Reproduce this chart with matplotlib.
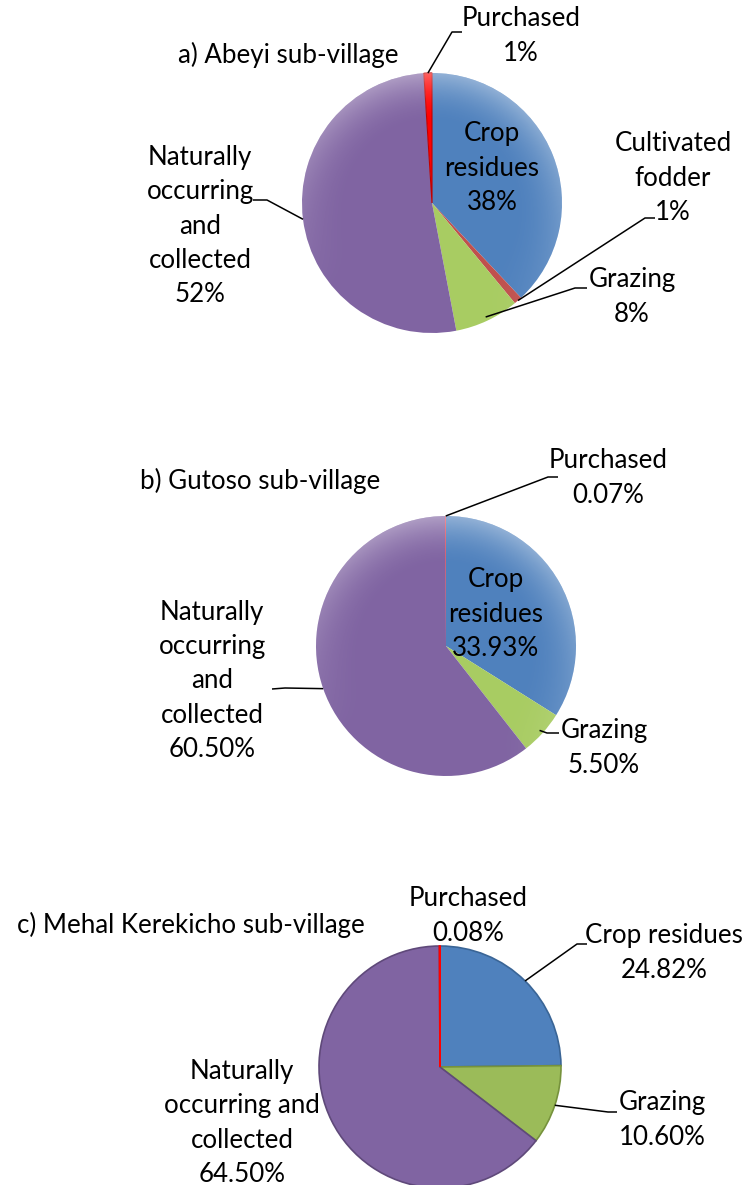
import numpy as np
import matplotlib.pyplot as plt
from matplotlib.patches import Circle

plt.rcParams['font.family'] = ['Lato', 'DejaVu Sans']

W, H = 743, 1185

# slices run clockwise from 12 o'clock
A_NAMES = ["Crop\nresidues", "Cultivated\nfodder", "Grazing",
           "Naturally\noccurring\nand\ncollected", "Purchased"]
A_VALUES = [38, 1, 8, 52, 1]

B_NAMES = ["Crop\nresidues", "Grazing",
           "Naturally\noccurring\nand\ncollected", "Purchased"]
B_VALUES = [33.93, 5.50, 60.50, 0.07]

C_NAMES = ["Crop residues", "Grazing",
           "Naturally\noccurring and\ncollected", "Purchased"]
C_VALUES = [24.82, 10.60, 64.50, 0.08]

BLUE, FODDER, GREEN, PURPLE, RED = "#4F81BD", "#C0504D", "#9BBB59", "#8064A2", "#FF0000"
GREEN_SOFT = "#A8CC62"

FS = 18.6
LS = 1.47


def px(x, y):
    return x, H - y


def bevel(ax, cx, cy, r):
    # soft rim highlight, like the office "soft round" bevel
    n = 400
    yy, xx = np.mgrid[1:-1:n * 1j, -1:1:n * 1j]
    rr = np.hypot(xx, yy)
    rim = np.clip((rr - 0.6) / 0.4, 0, 1) ** 2
    side = np.clip(0.45 + 0.55 * (yy + 0.2 * xx) / np.maximum(rr, 1e-6), 0, 1)
    img = np.zeros((n, n, 4))
    img[..., :3] = 1.0
    img[..., 3] = 0.38 * rim * side
    im = ax.imshow(img, extent=(cx - r, cx + r, cy - r, cy + r), zorder=3,
                   interpolation="bilinear")
    im.set_clip_path(Circle((cx, cy), r, transform=ax.transData))


def draw_pie(ax, values, colors, edges, center, radius, lw):
    cx, cy = px(*center)
    wedges, _ = ax.pie(values, colors=colors, startangle=90, counterclock=False,
                       center=(cx, cy), radius=radius,
                       wedgeprops=dict(linewidth=lw))
    for w, ec in zip(wedges, edges):
        w.set_edgecolor(ec)
        w.set_zorder(2)
    return wedges, cx, cy


def anchor(w, cx, cy, r):
    mid = np.deg2rad((w.theta1 + w.theta2) / 2)
    return cx + r * np.cos(mid), cy + r * np.sin(mid)


def leader(ax, start, elbow, end):
    ax.plot([start[0], elbow[0], end[0]], [start[1], H - elbow[1], H - end[1]],
            color="black", lw=1.1, zorder=5, solid_capstyle="butt")


def label(ax, pos, text):
    x, y = px(*pos)
    ax.text(x, y, text, ha="center", va="center", fontsize=FS,
            linespacing=LS, color="black", zorder=6)


fig = plt.figure(figsize=(W / 100, H / 100), dpi=100)
ax = fig.add_axes([0, 0, 1, 1])

# ---- a) Abeyi ----
ra = 130
wa, cx, cy = draw_pie(ax, A_VALUES, [BLUE, FODDER, GREEN_SOFT, PURPLE, RED],
                      ["none", "none", "none", "none", "#C00000"], (432, 203), ra, 0.8)
bevel(ax, cx, cy, ra)
pct_a = [f"{v:.0f}%" for v in A_VALUES]
label(ax, (288, 55), "a) Abeyi sub-village")
label(ax, (492, 168), A_NAMES[0] + "\n" + pct_a[0])
label(ax, (673, 178), A_NAMES[1] + "\n" + pct_a[1])
label(ax, (632, 297), A_NAMES[2] + "\n" + pct_a[2])
label(ax, (200, 226), A_NAMES[3] + "\n" + pct_a[3])
label(ax, (521, 36), A_NAMES[4] + "\n" + pct_a[4])
leader(ax, anchor(wa[4], cx, cy, ra), (452, 32), (462, 32))
leader(ax, anchor(wa[1], cx, cy, ra), (645, 218), (655, 218))
leader(ax, anchor(wa[2], cx, cy, ra - 4), (575, 288), (587, 288))
leader(ax, anchor(wa[3], cx, cy, ra), (267, 200), (253, 200))

# ---- b) Gutoso ----
rb = 130
wb, cx, cy = draw_pie(ax, B_VALUES, [BLUE, GREEN_SOFT, PURPLE, RED],
                      ["none", "none", "none", "none"], (446, 646), rb, 0)
bevel(ax, cx, cy, rb)
pct_b = [f"{v:.2f}%" for v in B_VALUES]
label(ax, (260, 481), "b) Gutoso sub-village")
label(ax, (496, 614), B_NAMES[0] + "\n" + pct_b[0])
label(ax, (604, 748), B_NAMES[1] + "\n" + pct_b[1])
label(ax, (212, 681), B_NAMES[2] + "\n" + pct_b[2])
label(ax, (608, 478), B_NAMES[3] + "\n" + pct_b[3])
leader(ax, anchor(wb[3], cx, cy, rb), (548, 477), (558, 477))
leader(ax, anchor(wb[1], cx, cy, rb - 4), (547, 733), (559, 733))
leader(ax, anchor(wb[2], cx, cy, rb), (285, 688), (272, 689))

# ---- c) Mehal Kerekicho ----
rc = 121
wc, cx, cy = draw_pie(ax, C_VALUES, [BLUE, GREEN, PURPLE, RED],
                      ["#3A6596", "#76923C", "#5F497A", RED], (440, 1067), rc, 1.2)
pct_c = [f"{v:.2f}%" for v in C_VALUES]
label(ax, (191, 925), "c) Mehal Kerekicho sub-village")
label(ax, (664, 953), C_NAMES[0] + "\n" + pct_c[0])
label(ax, (662, 1120), C_NAMES[1] + "\n" + pct_c[1])
label(ax, (242, 1123), C_NAMES[2] + "\n" + pct_c[2])
label(ax, (468, 916), C_NAMES[3] + "\n" + pct_c[3])
leader(ax, anchor(wc[0], cx, cy, rc), (577, 944), (587, 944))
leader(ax, anchor(wc[1], cx, cy, rc), (608, 1112), (617, 1112))

ax.set_xlim(0, W)
ax.set_ylim(0, H)
ax.set_aspect("equal")
ax.axis("off")

fig.savefig("out.png", dpi=100)
